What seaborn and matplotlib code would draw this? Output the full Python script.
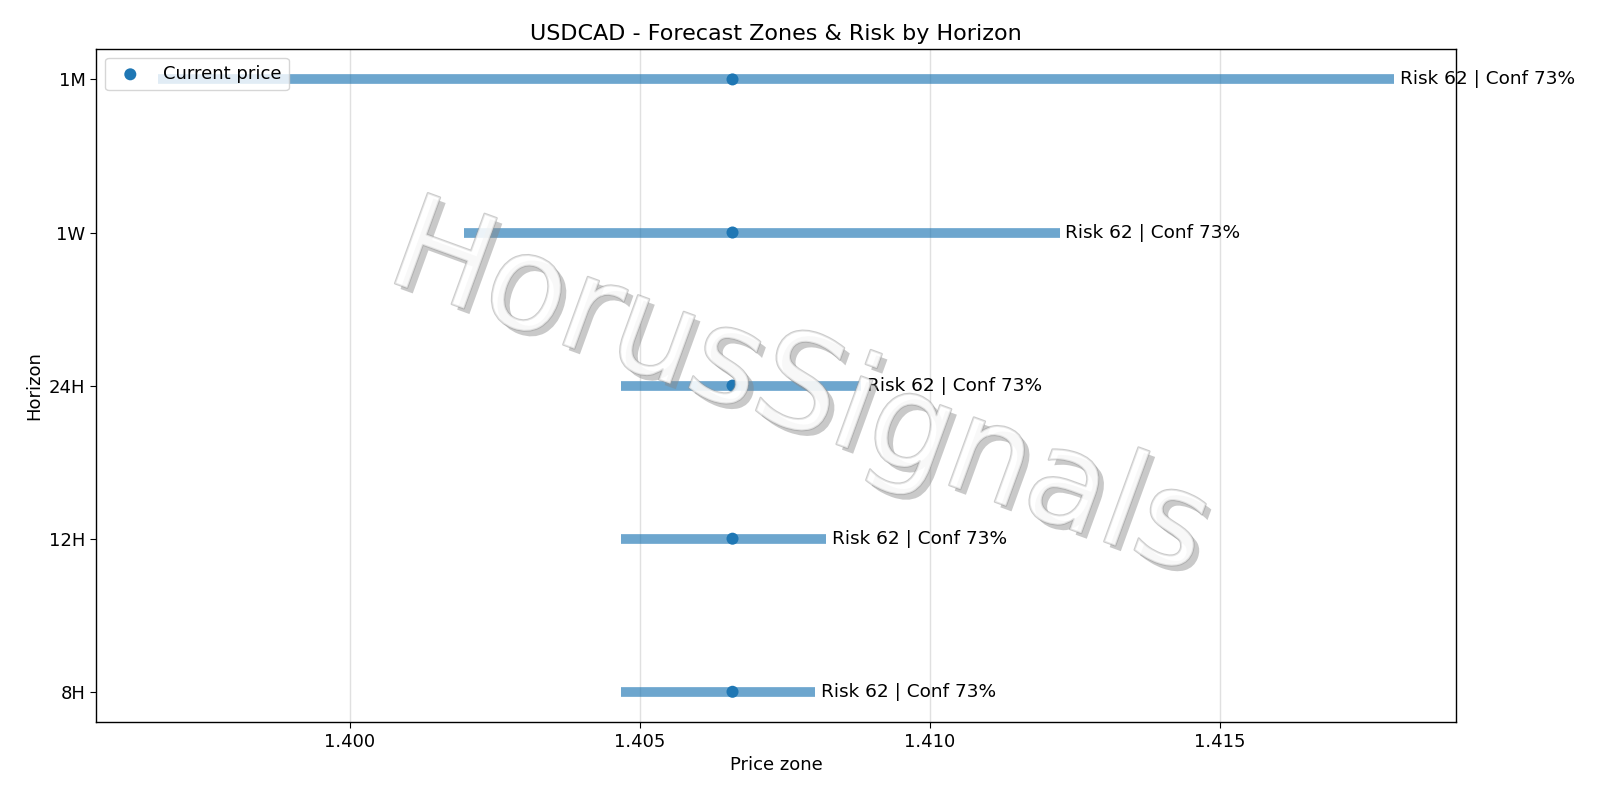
import matplotlib
matplotlib.use("Agg")
import matplotlib.pyplot as plt
import matplotlib.patheffects as pe
import seaborn as sns
import pandas as pd

horizons = ["1M", "1W", "24H", "12H", "8H"]
low = [1.39669, 1.40197, 1.40468, 1.40468, 1.40468]
high = [1.41801, 1.41224, 1.40882, 1.40822, 1.40803]
current = [1.40660] * 5
labels = ["Risk 62 | Conf 73%"] * 5

sns.set_style("white")
plt.rcParams['font.family'] = ['DejaVu Sans']
for k in ["text.color", "axes.labelcolor", "xtick.color", "ytick.color"]:
    plt.rcParams[k] = "black"
fig, ax = plt.subplots(figsize=(16, 8), dpi=100)
fig.subplots_adjust(left=0.06, right=0.91, top=0.939, bottom=0.097)

ypos = list(range(len(horizons)))[::-1]
ax.hlines(ypos, low, high, color="#1f77b4", alpha=0.65, linewidth=7, zorder=2)
df = pd.DataFrame({"price": current, "y": ypos})
sns.scatterplot(data=df, x="price", y="y", ax=ax, color="#1f77b4", s=75,
                edgecolor="none", label="Current price", zorder=3)
for y, h, t in zip(ypos, high, labels):
    ax.text(h + 0.0001, y, t, va="center", ha="left", fontsize=13.3)
ax.set_yticks(ypos)
ax.set_yticklabels(horizons)
ax.set_ylim(-0.2, 4.2)
ax.margins(x=0.05)
ax.xaxis.set_major_formatter(matplotlib.ticker.FormatStrFormatter("%.3f"))
ax.grid(axis="x", color="#e0e0e0", linewidth=1)
ax.grid(axis="y", visible=False)
for s in ax.spines.values():
    s.set_color("black"); s.set_linewidth(1)
ax.tick_params(labelsize=13, left=True, bottom=True, length=4)
ax.set_xlabel("Price zone", fontsize=13)
ax.set_ylabel("Horizon", fontsize=13)
ax.set_title("USDCAD - Forecast Zones & Risk by Horizon", fontsize=16)
ax.legend(loc="upper left", fontsize=13, markerscale=1.0, borderaxespad=0.5)
fig.text(0.5, 0.51, "HorusSignals", fontsize=95, color="white", alpha=0.5,
         rotation=-20, ha="center", va="center", zorder=5,
         path_effects=[pe.withSimplePatchShadow(offset=(4, -4), shadow_rgbFace="#888888", alpha=0.45),
                       pe.Stroke(linewidth=1.5, foreground="#999999"), pe.Normal()])
fig.savefig("out.png")
